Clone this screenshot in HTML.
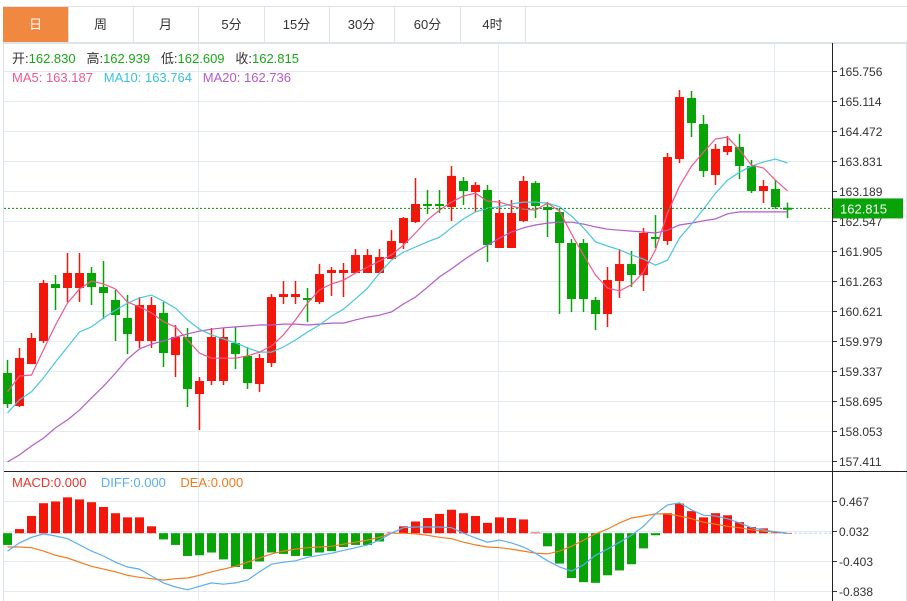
<!DOCTYPE html>
<html><head><meta charset="utf-8">
<style>
body{margin:0;background:#fff;font-family:"Liberation Sans","Noto Sans CJK SC",sans-serif;}
#wrap{position:relative;width:907px;height:601px;overflow:hidden;}
.tabs{position:absolute;left:3px;top:6px;width:904px;height:36px;border-top:1px solid #dde3ea;border-bottom:1px solid #dde3ea;}
.tab{position:absolute;top:0;height:36px;width:65px;border-right:1px solid #dde3ea;text-align:center;line-height:36px;font-size:13px;color:#333;}
.tab.on{background:#f0893f;color:#fff;}
</style></head><body>
<div id="wrap">
<div class="tabs">
<div class="tab on" style="left:0">日</div>
<div class="tab" style="left:65px">周</div>
<div class="tab" style="left:130px">月</div>
<div class="tab" style="left:196px">5分</div>
<div class="tab" style="left:261px">15分</div>
<div class="tab" style="left:326px">30分</div>
<div class="tab" style="left:392px">60分</div>
<div class="tab" style="left:457px">4时</div>
</div>
<svg id="chart" width="907" height="601" style="position:absolute;left:0;top:0"></svg>
</div>
<script>
const priceTicks=[165.756,165.114,164.472,163.831,163.189,162.547,161.905,161.263,160.621,159.979,159.337,158.695,158.053,157.411];
const macdTicks=[0.467,0.032,-0.403,-0.838];
const opens=[159.293,158.587,159.485,159.978,161.197,161.112,161.112,161.433,161.133,160.855,160.470,159.978,159.978,160.577,159.678,160.063,158.843,159.122,159.122,159.935,159.657,159.057,159.507,160.919,160.919,160.898,160.812,161.433,161.433,161.433,161.433,161.433,161.732,162.075,162.524,162.910,162.910,162.845,163.402,163.166,163.209,161.968,161.968,162.546,163.359,162.845,162.738,162.075,162.075,160.855,160.555,161.262,161.625,161.390,162.203,162.118,163.872,165.178,164.621,163.530,164.022,164.129,163.723,163.188,163.231,162.830];
const closes=[158.629,159.614,160.042,161.219,161.112,161.433,161.433,161.133,161.005,160.534,160.127,160.748,160.748,159.721,160.063,158.950,159.122,160.063,160.063,159.699,159.079,159.614,160.919,160.983,160.983,160.855,161.411,161.497,161.497,161.818,161.818,161.775,162.118,162.610,162.910,162.867,162.867,163.511,163.188,163.316,162.032,162.717,162.717,163.402,162.867,162.781,162.075,160.877,160.877,160.555,161.283,161.625,161.390,162.289,162.160,163.915,165.199,164.643,163.615,164.089,164.151,163.723,163.188,163.295,162.845,162.815];
const highs=[159.571,159.828,160.149,161.283,161.390,161.861,161.861,161.561,161.690,161.069,160.962,160.919,160.919,160.812,160.320,160.256,159.207,160.256,160.256,160.277,159.849,159.699,160.983,161.262,161.262,161.112,161.625,161.561,161.647,161.946,161.946,161.946,162.353,162.631,163.466,163.209,163.209,163.723,163.487,163.380,163.316,162.995,162.995,163.509,163.402,162.952,162.824,162.160,162.160,160.919,161.561,161.946,161.904,162.396,162.674,164.001,165.349,165.328,164.814,164.193,164.365,164.407,163.851,163.423,163.423,162.939];
const lows=[158.544,158.565,159.485,159.935,160.641,160.812,160.812,160.748,160.449,159.978,159.699,159.828,159.828,159.421,159.207,158.565,158.073,159.036,159.036,159.378,158.950,158.886,159.421,160.769,160.769,160.384,160.769,160.941,160.919,161.433,161.433,161.411,161.732,161.946,162.503,162.695,162.717,162.546,162.888,162.738,161.668,161.968,161.968,162.524,162.610,162.203,160.555,160.598,160.598,160.213,160.277,160.898,161.133,161.048,161.968,162.032,163.787,164.343,163.487,163.316,163.958,163.444,163.145,162.931,162.803,162.609];
const ma5=[158.89,159.23,159.25,159.79,160.32,160.79,161.09,161.26,161.20,161.09,160.81,160.71,160.58,160.39,160.28,160.00,159.72,159.61,159.61,159.61,159.66,159.74,159.87,160.11,160.43,160.79,161.07,161.20,161.28,161.43,161.56,161.69,161.82,162.03,162.29,162.57,162.78,162.95,163.08,163.14,162.97,162.95,162.87,162.80,162.78,162.93,162.76,162.27,161.82,161.39,161.11,161.05,161.18,161.45,161.93,162.72,163.29,163.72,164.02,164.30,164.34,164.07,163.74,163.68,163.42,163.19];
const ma10=[158.44,158.72,158.89,159.19,159.53,159.85,160.17,160.28,160.47,160.64,160.79,160.90,160.96,160.83,160.68,160.43,160.23,160.11,160.02,159.94,159.83,159.74,159.74,159.85,160.00,160.17,160.32,160.51,160.66,160.88,161.11,161.43,161.71,161.88,161.99,162.10,162.20,162.40,162.59,162.74,162.82,162.85,162.91,162.95,162.95,162.93,162.85,162.65,162.40,162.10,162.01,161.93,161.82,161.73,161.60,161.71,162.18,162.48,162.80,163.14,163.42,163.59,163.72,163.81,163.87,163.79];
const ma20=[157.39,157.54,157.73,157.90,158.12,158.29,158.50,158.76,159.01,159.29,159.59,159.81,159.91,159.98,160.06,160.13,160.19,160.23,160.26,160.28,160.30,160.32,160.32,160.34,160.34,160.32,160.34,160.36,160.36,160.43,160.49,160.53,160.60,160.77,160.92,161.13,161.35,161.52,161.71,161.88,162.03,162.18,162.31,162.40,162.46,162.50,162.52,162.52,162.48,162.42,162.37,162.35,162.33,162.31,162.29,162.35,162.46,162.50,162.55,162.59,162.70,162.74,162.74,162.74,162.74,162.74];
const macdHist=[-0.17,0.06,0.25,0.435,0.46,0.52,0.49,0.45,0.38,0.29,0.23,0.23,0.10,-0.09,-0.17,-0.33,-0.32,-0.28,-0.38,-0.49,-0.52,-0.41,-0.28,-0.30,-0.33,-0.33,-0.28,-0.26,-0.20,-0.17,-0.17,-0.12,0.01,0.10,0.17,0.22,0.28,0.34,0.29,0.25,0.15,0.23,0.22,0.20,0.01,-0.19,-0.44,-0.65,-0.71,-0.72,-0.61,-0.54,-0.45,-0.22,-0.03,0.29,0.43,0.32,0.23,0.29,0.26,0.16,0.09,0.07,0.01,0.0];
const diffVals=[-0.26,-0.14,-0.06,-0.01,-0.04,-0.08,-0.17,-0.26,-0.33,-0.42,-0.49,-0.52,-0.62,-0.72,-0.78,-0.82,-0.77,-0.72,-0.74,-0.72,-0.68,-0.56,-0.45,-0.42,-0.40,-0.35,-0.32,-0.29,-0.25,-0.21,-0.17,-0.10,0.00,0.08,0.09,0.09,0.09,0.08,0.00,-0.07,-0.13,-0.10,-0.14,-0.20,-0.29,-0.40,-0.49,-0.55,-0.46,-0.32,-0.23,-0.13,-0.03,0.10,0.28,0.41,0.44,0.34,0.26,0.25,0.21,0.15,0.08,0.05,0.02,0.00];
const deaVals=[-0.20,-0.20,-0.21,-0.26,-0.32,-0.36,-0.42,-0.48,-0.52,-0.56,-0.61,-0.64,-0.66,-0.68,-0.66,-0.65,-0.61,-0.56,-0.52,-0.48,-0.42,-0.36,-0.30,-0.26,-0.23,-0.21,-0.20,-0.19,-0.16,-0.13,-0.10,-0.06,0.00,0.00,-0.01,-0.03,-0.06,-0.08,-0.13,-0.17,-0.20,-0.21,-0.23,-0.26,-0.29,-0.30,-0.26,-0.19,-0.10,-0.01,0.06,0.15,0.22,0.25,0.28,0.28,0.25,0.21,0.16,0.13,0.10,0.08,0.05,0.03,0.02,0.00];
const lastPrice=162.815;

const NS='http://www.w3.org/2000/svg';
const svg=document.getElementById('chart');
const RED='#f3170b',GREEN='#07a307';
function yP(p){return 71+(165.756-p)/0.642*30;}
function yM(v){return 531+(0.032-v)/0.435*30;}
function xC(i){return 7.5+12*i;}
function mk(tag,attrs,parent){const e=document.createElementNS(NS,tag);for(const k in attrs)e.setAttribute(k,attrs[k]);(parent||svg).appendChild(e);return e;}

// frame
let e;
e=mk('rect',{x:3.5,y:42.5,width:903,height:560,fill:'none',stroke:'#dde3ea'});


// vertical grid
[198.5,498.5,774.5].forEach(x=>{
  e=mk('line',{x1:x,y1:43,x2:x,y2:601,stroke:'#e3eaf1'});
  
  
});
// price grid & labels
priceTicks.forEach(t=>{
  const y=Math.round(yP(t))+0.5;
  e=mk('line',{x1:4,y1:y,x2:833,y2:y,stroke:'#e3eaf1'});
  
  
  mk('line',{x1:833,y1:y,x2:837,y2:y,stroke:'#333'});
  e=mk('text',{x:839,y:y+4.5,'font-size':12,fill:'#333','font-family':'Liberation Sans, sans-serif'});
  e.textContent=t.toFixed(3);
  
  
});
// macd grid & labels
macdTicks.forEach(t=>{
  const y=Math.round(yM(t))+0.5;
  e=mk('line',{x1:4,y1:y,x2:833,y2:y,stroke:'#e3eaf1'});
  
  
  mk('line',{x1:833,y1:y,x2:837,y2:y,stroke:'#333'});
  e=mk('text',{x:839,y:y+4.5,'font-size':12,fill:'#333','font-family':'Liberation Sans, sans-serif'});
  e.textContent=t.toFixed(3);
  
  
});
// axis lines
e=mk('line',{x1:832.5,y1:43,x2:832.5,y2:601,stroke:'#222'});


e=mk('line',{x1:4,y1:471.5,x2:907,y2:471.5,stroke:'#222'});


// zero line
e=mk('line',{x1:4,y1:yM(0),x2:833,y2:yM(0),stroke:'#bcd9ee','stroke-dasharray':'3,2'});



// candles
for(let i=0;i<opens.length;i++){
  const up=closes[i]>=opens[i];
  const c=up?RED:GREEN;
  const g=mk('g',{});
  
  
  const x=xC(i);
  mk('line',{x1:x,y1:yP(highs[i]),x2:x,y2:yP(lows[i]),stroke:c,'stroke-width':1.5},g);
  const t=yP(Math.max(opens[i],closes[i])),b=yP(Math.min(opens[i],closes[i]));
  mk('rect',{x:x-4.5,y:t,width:9,height:Math.max(2,b-t),fill:c},g);
}
function line(vals,yf,color,name){
  let d='';vals.forEach((v,i)=>{d+=(i?'L':'M')+xC(i).toFixed(1)+','+yf(v).toFixed(1);});
  const p=mk('path',{d:d,fill:'none',stroke:color,'stroke-width':1.2});
  
  
}
line(ma20,yP,'#b55bc9','ma20-line');
line(ma10,yP,'#48c6e0','ma10-line');
line(ma5,yP,'#f0588b','ma5-line');

// last price line
const ly=yP(lastPrice);
e=mk('line',{x1:4,y1:ly,x2:833,y2:ly,stroke:'#0a8f0a','stroke-dasharray':'2,2'});


e=mk('rect',{x:833,y:ly-10,width:70,height:20,fill:'#07a307'});


e=mk('text',{x:840,y:ly+5,'font-size':13,fill:'#fff','font-family':'Liberation Sans, sans-serif'});
e.textContent=lastPrice.toFixed(3);



// macd histogram
const z=yM(0);
macdHist.forEach((v,i)=>{
  const y=yM(v);
  const r=mk('rect',{x:xC(i)-4.5,y:Math.min(y,z),width:9,height:Math.max(0.5,Math.abs(y-z)),fill:v>=0?RED:GREEN});
  
  
});
line(deaVals,yM,'#f57a1e','dea-line');
line(diffVals,yM,'#5aaef2','diff-line');

// legends
function legend(x,y,parts,name){
  const t=mk('text',{x:x,y:y,'font-size':13,'font-family':'Liberation Sans, Noto Sans CJK SC, sans-serif'});
  
  
  parts.forEach(p=>{const s=mk('tspan',{fill:p[1]},t);s.textContent=p[0];});
}
legend(12,63,[['开:','#333'],['162.830   ','#17a817'],['高:','#333'],['162.939   ','#17a817'],['低:','#333'],['162.609   ','#17a817'],['收:','#333'],['162.815','#17a817']],'ohlc-legend');
svg.lastChild.setAttribute('xml:space','preserve');
svg.lastChild.style.whiteSpace='pre';
legend(12,82,[['MA5: 163.187   ','#f0588b'],['MA10: 163.764   ','#38c2dc'],['MA20: 162.736','#b55bc9']],'ma-legend');
svg.lastChild.style.whiteSpace='pre';
legend(12,487,[['MACD:0.000    ','#e8322a'],['DIFF:0.000    ','#5aaef2'],['DEA:0.000','#f57a1e']],'macd-legend');
svg.lastChild.style.whiteSpace='pre';
</script>
</body></html>
